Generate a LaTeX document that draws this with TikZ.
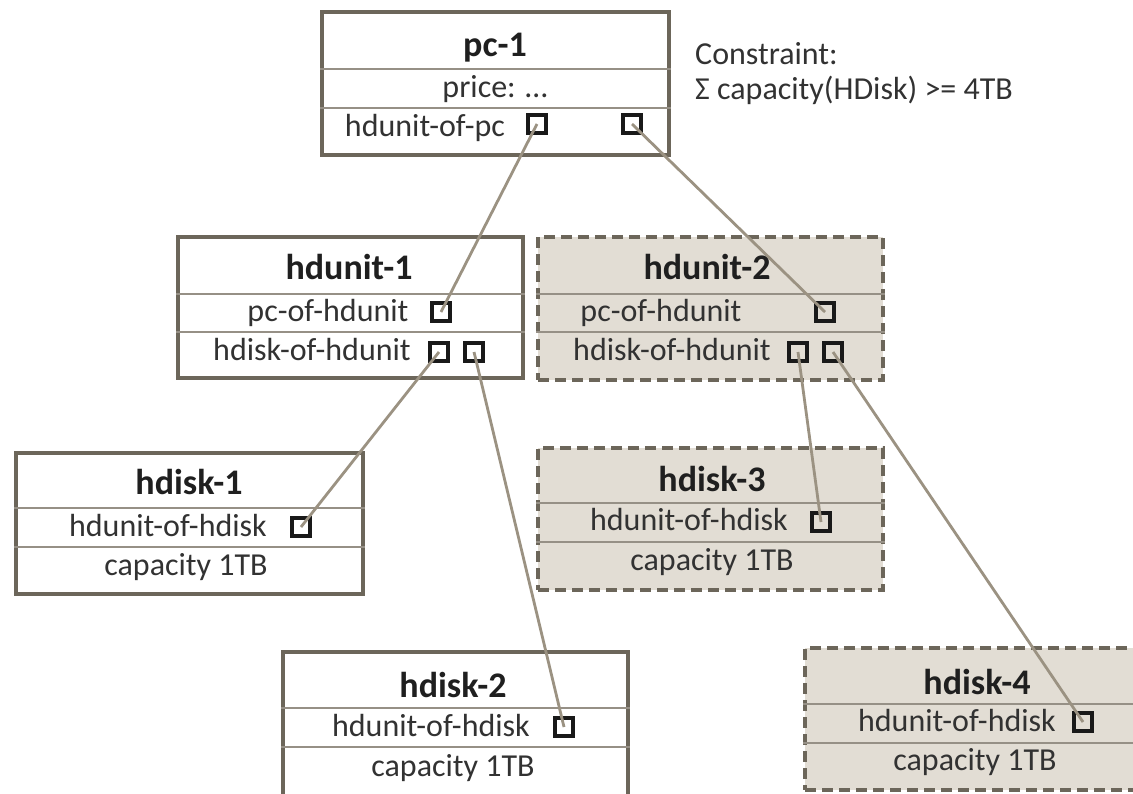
\documentclass[tikz,border=0pt]{standalone}
\usepackage{fontspec}
\setmainfont{Carlito}
\usepackage{xcolor}
\usetikzlibrary{positioning}

\definecolor{boxline}{RGB}{108,102,90}
\definecolor{sepline}{RGB}{150,144,134}
\definecolor{boxfill}{RGB}{226,221,212}
\definecolor{linkline}{RGB}{155,146,130}
\definecolor{slottext}{RGB}{50,50,50}

\tikzset{
  objbox/.style={draw=boxline, line width=3.5pt, minimum width=345pt, minimum height=141pt, inner sep=0pt},
  newbox/.style={objbox, fill=boxfill, line width=4pt, dash pattern=on 11pt off 6pt},
  sep/.style={draw=sepline, line width=2pt},
  title/.style={font=\fontsize{36}{40}\selectfont\bfseries, text=black!88, inner sep=0pt, text height=25pt, text depth=7pt},
  slot/.style={font=\fontsize{32}{38}\selectfont, text=slottext, inner sep=0pt, text height=22pt, text depth=6pt},
  port/.style={draw=black!90, line width=4.5pt, minimum size=18pt, inner sep=0pt},
  link/.style={draw=linkline, line width=2.8pt}
}

\begin{document}
\begin{tikzpicture}[x=1pt,y=1pt,yscale=-1,xscale=1]
\useasboundingbox (0,0) rectangle (1133,793);

%Shape: Rectangle [pc-1]
\node [objbox, minimum width=347pt, minimum height=143pt] (pc1) at (495.5,83.5) {};
\draw [sep] (pc1.west |- 0,69) -- (pc1.east |- 0,69) ;
\draw [sep] (pc1.west |- 0,108) -- (pc1.east |- 0,108) ;
% Text Node
\node [title] (pc1t) at (495,47) {pc-1};
\node [slot] (pc1price) at (495,89) {price: …};
\node [slot] (pc1hu) at (425,128) {hdunit-of-pc};
\node [port] (pc1a) at (537,124) {};
\node [port] (pc1b) at (632,124) {};

% Text Node
\node [slot, anchor=west] (cons1) at (695,56) {Constraint:};
\node [slot, anchor=west] (cons2) at (695,91) {Σ capacity(HDisk) >= 4TB};

%Shape: Rectangle [hdunit-1]
\node [objbox] (hu1) at (350.5,307.5) {};
\draw [sep] (hu1.west |- 0,294) -- (hu1.east |- 0,294) ;
\draw [sep] (hu1.west |- 0,332) -- (hu1.east |- 0,332) ;
% Text Node
\node [title] (hu1t) at (349,270) {hdunit-1};
\node [slot] (hu1pc) at (328,313) {pc-of-hdunit};
\node [slot] (hu1hd) at (312,352) {hdisk-of-hdunit};
\node [port] (hu1p) at (441,312) {};
\node [port] (hu1a) at (439,352) {};
\node [port] (hu1b) at (474,352) {};

%Shape: Rectangle [hdunit-2]
\node [newbox, minimum height=143pt] (hu2) at (710.5,308.5) {};
\draw [sep] (hu2.west |- 0,294) -- (hu2.east |- 0,294) ;
\draw [sep] (hu2.west |- 0,332) -- (hu2.east |- 0,332) ;
% Text Node
\node [title] (hu2t) at (707,270) {hdunit-2};
\node [slot] (hu2pc) at (661,313) {pc-of-hdunit};
\node [slot] (hu2hd) at (672,352) {hdisk-of-hdunit};
\node [port] (hu2p) at (825,312) {};
\node [port] (hu2a) at (798,352) {};
\node [port] (hu2b) at (833,352) {};

%Shape: Rectangle [hdisk-1]
\node [objbox, minimum width=347pt] (hd1) at (189.5,523.5) {};
\draw [sep] (hd1.west |- 0,508) -- (hd1.east |- 0,508) ;
\draw [sep] (hd1.west |- 0,547) -- (hd1.east |- 0,547) ;
% Text Node
\node [title] (hd1t) at (189,485) {hdisk-1};
\node [slot] (hd1hu) at (168,528) {hdunit-of-hdisk};
\node [slot] (hd1cap) at (186,567) {capacity 1TB};
\node [port] (hd1p) at (301,527) {};

%Shape: Rectangle [hdisk-3]
\node [newbox, minimum height=142pt] (hd3) at (710.5,519) {};
\draw [sep] (hd3.west |- 0,503) -- (hd3.east |- 0,503) ;
\draw [sep] (hd3.west |- 0,542) -- (hd3.east |- 0,542) ;
% Text Node
\node [title] (hd3t) at (712,482) {hdisk-3};
\node [slot] (hd3hu) at (689,522) {hdunit-of-hdisk};
\node [slot] (hd3cap) at (712,562) {capacity 1TB};
\node [port] (hd3p) at (821,522) {};

%Shape: Rectangle [hdisk-2]
\node [objbox, minimum height=145pt] (hd2) at (455.5,724.5) {};
\draw [sep] (hd2.west |- 0,708) -- (hd2.east |- 0,708) ;
\draw [sep] (hd2.west |- 0,747) -- (hd2.east |- 0,747) ;
% Text Node
\node [title] (hd2t) at (453,688) {hdisk-2};
\node [slot] (hd2hu) at (431,728) {hdunit-of-hdisk};
\node [slot] (hd2cap) at (453,768) {capacity 1TB};
\node [port] (hd2p) at (564,727) {};

%Shape: Rectangle [hdisk-4]
\node [newbox, minimum height=142pt] (hd4) at (977.5,719) {};
\draw [sep] (hd4.west |- 0,704) -- (hd4.east |- 0,704) ;
\draw [sep] (hd4.west |- 0,743) -- (hd4.east |- 0,743) ;
% Text Node
\node [title] (hd4t) at (977,685) {hdisk-4};
\node [slot] (hd4hu) at (957,723) {hdunit-of-hdisk};
\node [slot] (hd4cap) at (975,762) {capacity 1TB};
\node [port] (hd4p) at (1083,722) {};

%Straight Lines
\draw [link] (pc1a.center) -- (hu1p.center) ;
\draw [link] (pc1b.center) -- (hu2p.center) ;
\draw [link] (hu1a.center) -- (hd1p.center) ;
\draw [link] (hu1b.center) -- (hd2p.center) ;
\draw [link] (hu2a.center) -- (hd3p.center) ;
\draw [link] (hu2b.center) -- (hd4p.center) ;

\end{tikzpicture}
\end{document}
